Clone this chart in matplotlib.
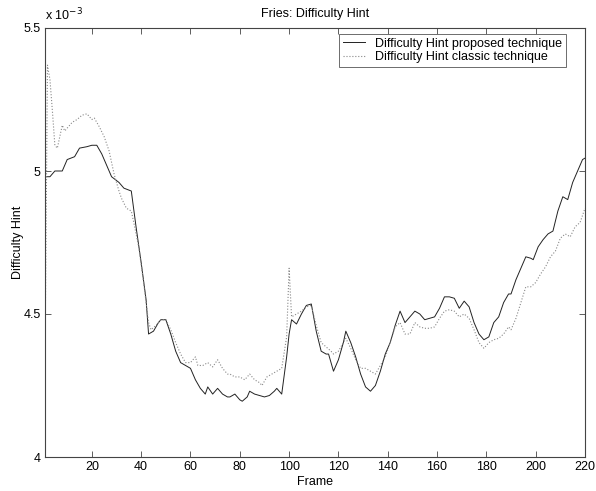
import matplotlib
matplotlib.use("Agg")
import matplotlib.pyplot as plt
from matplotlib.ticker import FuncFormatter

plt.rcParams['font.family'] = ['Liberation Sans', 'DejaVu Sans']

# Frames and values (in units of 1e-3)
prop_frames = [1, 3, 5, 8, 10, 13, 15, 18, 20, 22, 24, 26, 28, 31, 33, 36, 38, 40, 42, 43,
               45, 47, 48, 50, 52, 54, 56, 58, 60, 62, 64, 66, 67, 69, 71, 73, 75, 76, 78, 80,
               81, 83, 84, 86, 88, 90, 92, 94, 95, 97, 99, 100, 101, 103, 105, 107, 109, 111, 113, 115,
               116, 118, 120, 122, 123, 125, 127, 129, 131, 133, 135, 137, 139, 141, 143, 145, 147, 149, 151, 153,
               155, 157, 159, 161, 163, 165, 167, 169, 171, 173, 175, 177, 179, 181, 183, 185, 187, 189, 190, 192,
               194, 196, 198, 199, 201, 203, 205, 207, 209, 211, 213, 215, 217, 219, 220]
prop_vals = [4.98, 4.98, 5.00, 5.00, 5.04, 5.05, 5.08, 5.085, 5.09, 5.09, 5.06, 5.02, 4.98, 4.96, 4.94, 4.93, 4.80, 4.68, 4.55, 4.43,
             4.44, 4.47, 4.48, 4.48, 4.43, 4.37, 4.33, 4.32, 4.31, 4.27, 4.24, 4.22, 4.245, 4.22, 4.24, 4.22, 4.21, 4.21, 4.22, 4.20,
             4.195, 4.21, 4.23, 4.22, 4.215, 4.21, 4.215, 4.23, 4.24, 4.22, 4.35, 4.43, 4.48, 4.465, 4.50, 4.53, 4.535, 4.44, 4.37, 4.36,
             4.36, 4.30, 4.34, 4.40, 4.44, 4.40, 4.35, 4.29, 4.245, 4.23, 4.25, 4.30, 4.36, 4.40, 4.46, 4.51, 4.47, 4.49, 4.51, 4.50,
             4.48, 4.485, 4.49, 4.52, 4.56, 4.56, 4.555, 4.52, 4.545, 4.525, 4.47, 4.43, 4.41, 4.42, 4.47, 4.49, 4.54, 4.57, 4.57, 4.62,
             4.66, 4.70, 4.695, 4.69, 4.735, 4.76, 4.78, 4.79, 4.86, 4.91, 4.90, 4.96, 5.00, 5.04, 5.045]

class_frames = [1, 2, 3, 4, 5, 6, 7, 8, 9, 10, 12, 14, 16, 18, 20, 21, 23, 25, 27, 29,
                31, 32, 34, 36, 37, 39, 41, 43, 44, 46, 48, 50, 52, 54, 56, 58, 60, 62, 63, 65,
                67, 69, 71, 73, 75, 76, 78, 80, 82, 84, 86, 88, 89, 91, 93, 95, 97, 99, 100, 101,
                103, 105, 107, 109, 111, 113, 115, 117, 118, 120, 122, 123, 125, 127, 129, 131, 133, 135, 137, 139,
                141, 143, 145, 147, 149, 151, 153, 155, 157, 159, 161, 163, 165, 167, 169, 171, 173, 175, 177, 179,
                181, 183, 185, 187, 189, 190, 192, 194, 196, 198, 200, 202, 204, 206, 208, 210, 212, 214, 216, 218, 220]
class_vals = [4.35, 5.37, 5.32, 5.21, 5.09, 5.08, 5.12, 5.16, 5.14, 5.15, 5.17, 5.18, 5.195, 5.20, 5.18, 5.185, 5.155, 5.12, 5.07, 4.99,
              4.93, 4.905, 4.87, 4.86, 4.82, 4.735, 4.61, 4.47, 4.445, 4.46, 4.48, 4.48, 4.445, 4.40, 4.36, 4.33, 4.33, 4.35, 4.32, 4.32,
              4.33, 4.315, 4.34, 4.31, 4.29, 4.29, 4.28, 4.28, 4.27, 4.29, 4.27, 4.26, 4.25, 4.28, 4.29, 4.30, 4.31, 4.42, 4.66, 4.49,
              4.50, 4.51, 4.525, 4.53, 4.46, 4.40, 4.385, 4.37, 4.36, 4.37, 4.40, 4.415, 4.38, 4.34, 4.31, 4.31, 4.30, 4.29, 4.32, 4.35,
              4.40, 4.455, 4.47, 4.43, 4.43, 4.47, 4.455, 4.45, 4.45, 4.455, 4.485, 4.51, 4.515, 4.51, 4.49, 4.50, 4.485, 4.445, 4.40, 4.38,
              4.40, 4.41, 4.415, 4.43, 4.455, 4.445, 4.485, 4.54, 4.595, 4.595, 4.61, 4.64, 4.665, 4.70, 4.72, 4.765, 4.78, 4.77, 4.805, 4.82, 4.87]

x_ticks = [20, 40, 60, 80, 100, 120, 140, 160, 180, 200, 220]
y_ticks = [4.0, 4.5, 5.0, 5.5]
scale = 1e-3

fig = plt.figure(figsize=(5.96, 4.91), dpi=100)
ax = fig.add_axes([45/596, 34/491, 540/596, 429/491])

ax.plot(prop_frames, [v*scale for v in prop_vals], color='#222222', lw=0.7, ls='-',
        label='Difficulty Hint proposed technique')
ax.plot(class_frames, [v*scale for v in class_vals], color='#888888', lw=0.8, ls=':',
        label='Difficulty Hint classic technique')

ax.set_xlim(1, 220)
ax.set_ylim(4.0*scale, 5.5*scale)
ax.set_xticks(x_ticks)
ax.set_yticks([v*scale for v in y_ticks])
ax.yaxis.set_major_formatter(FuncFormatter(lambda v, p: '%g' % round(v/scale, 4)))
ax.tick_params(direction='in', top=True, right=True, length=4, width=0.6,
               labelsize=9, color='#444444', pad=3)
for s in ax.spines.values():
    s.set_linewidth(0.8)
    s.set_color('#444444')

ax.set_title('Fries: Difficulty Hint', fontsize=9, pad=8)
ax.set_xlabel('Frame', fontsize=9, labelpad=2)
ax.set_ylabel('Difficulty Hint', fontsize=9, labelpad=0)
ax.text(0.0, 1.012, r'x 10$^{-3}$', transform=ax.transAxes, fontsize=9,
        ha='left', va='bottom')

leg = ax.legend(loc='upper right', bbox_to_anchor=(0.965, 0.986), fontsize=9,
                fancybox=False, framealpha=1, edgecolor='#555555', handlelength=1.8,
                borderpad=0.3, labelspacing=0.1, handletextpad=0.8, borderaxespad=0)
leg.get_frame().set_linewidth(0.6)

fig.savefig('out.png', dpi=100)
